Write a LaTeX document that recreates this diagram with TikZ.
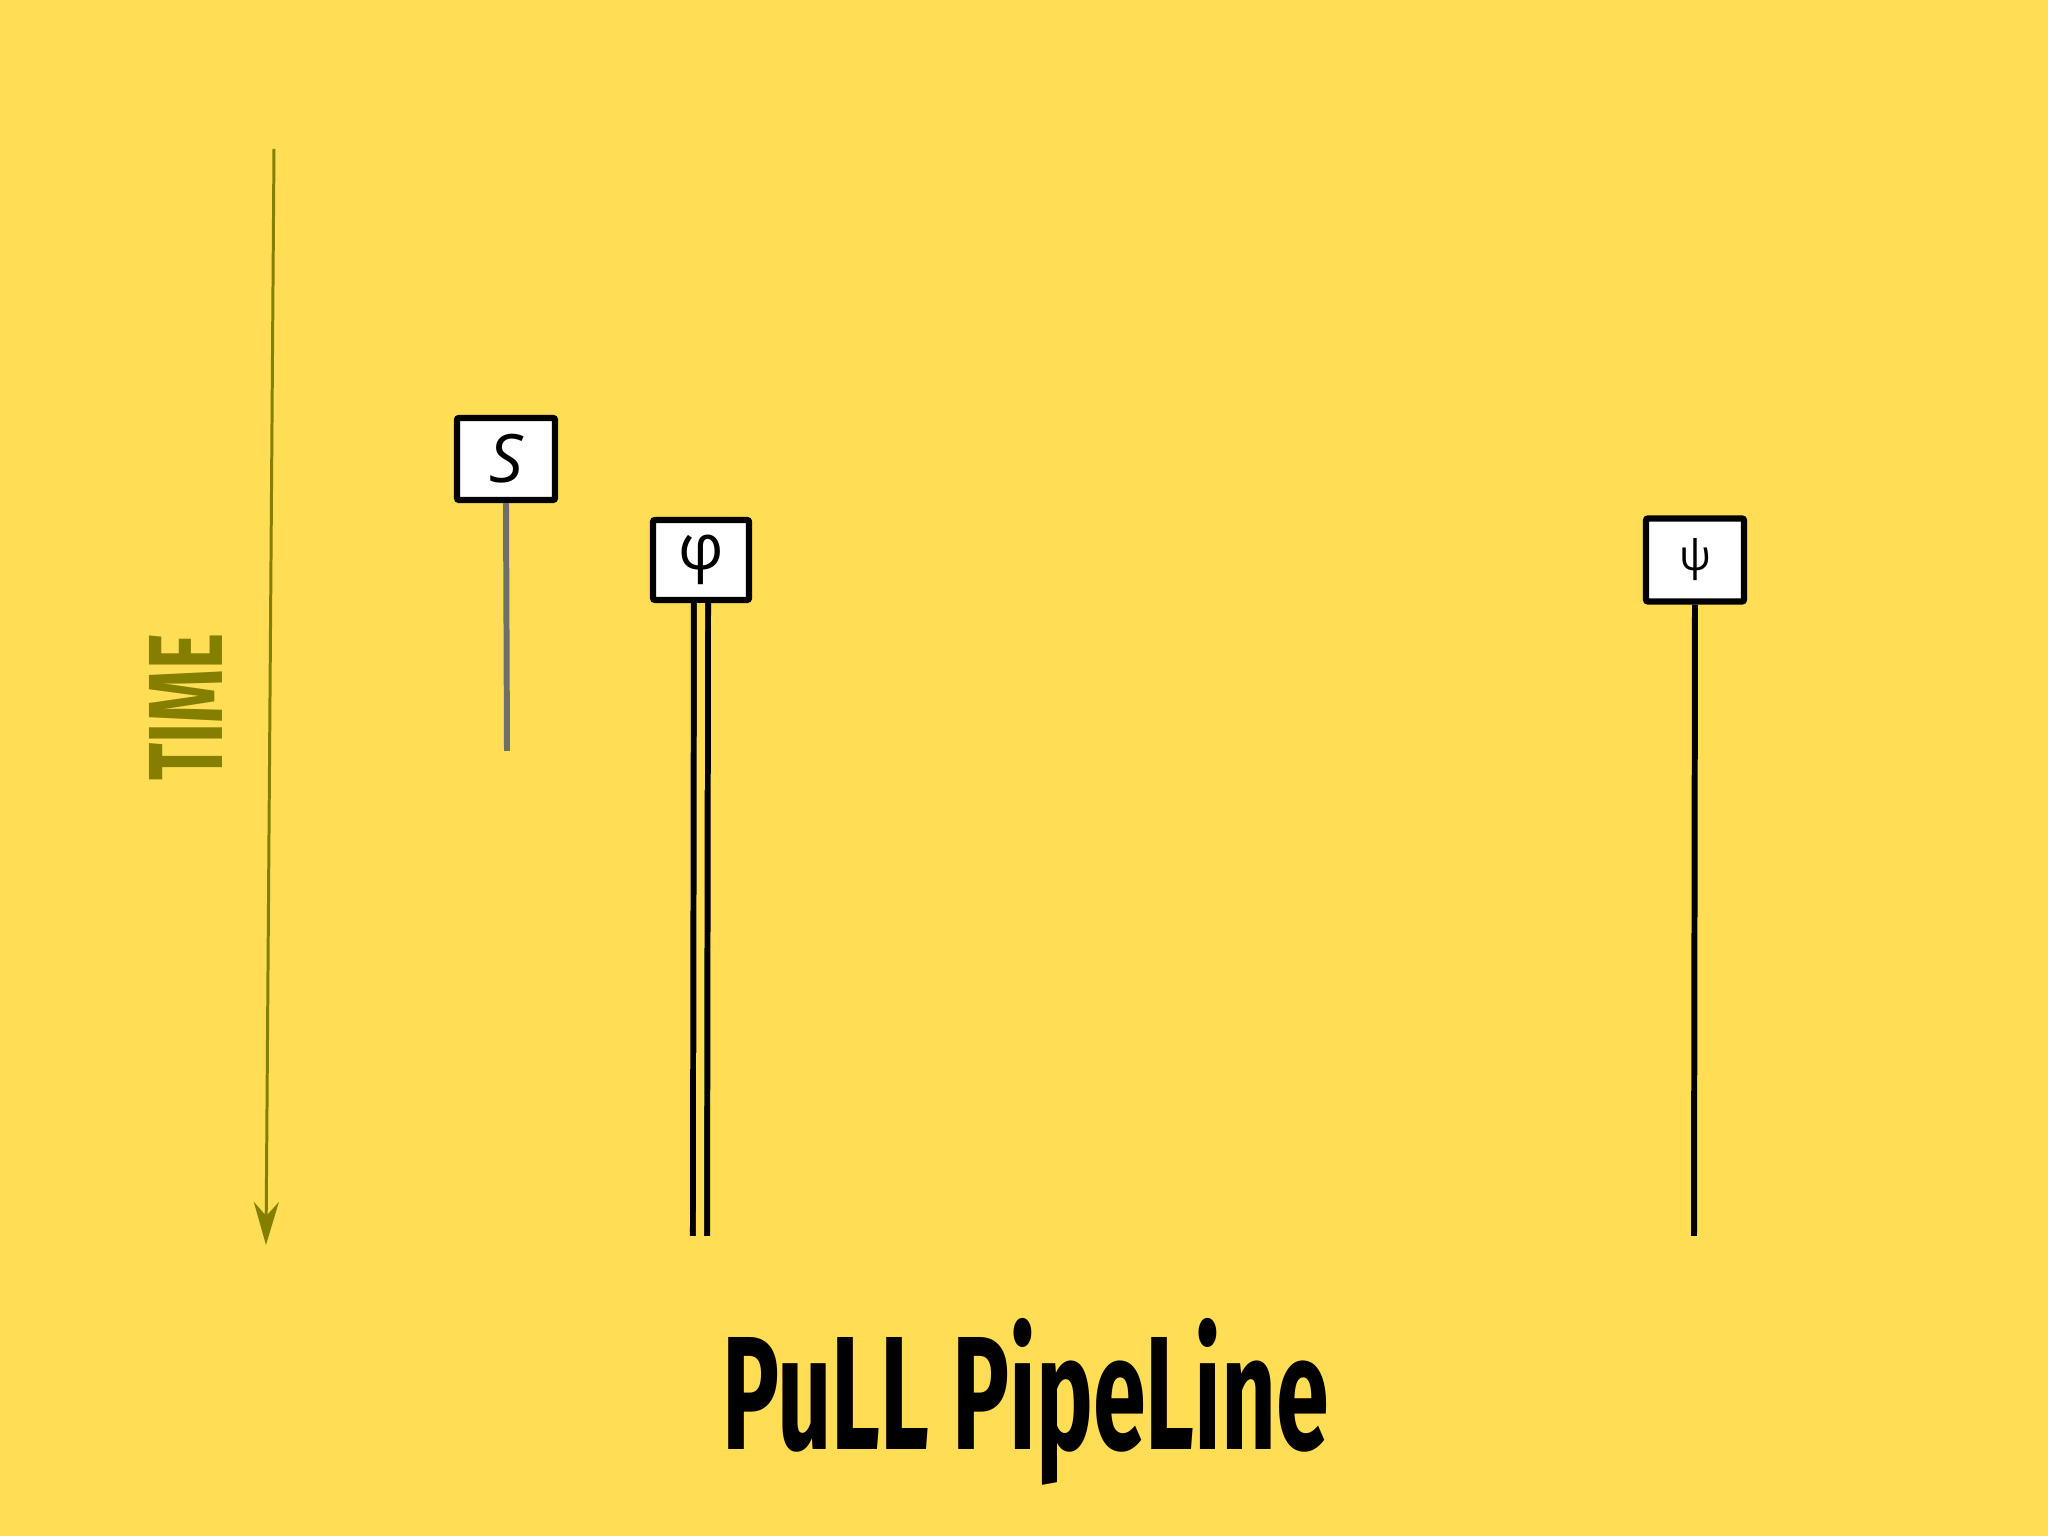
\documentclass[tikz,border=0pt]{standalone}
\usepackage{fontspec}
\setmainfont{Open Sans}
\newfontfamily\titlefont{Fira Sans}
\usetikzlibrary{arrows.meta}
\definecolor{bgyellow}{HTML}{FFDD55}
\definecolor{timeolive}{HTML}{857F00}
\definecolor{wiregray}{HTML}{6E6E6E}
\tikzset{
  stage/.style={fill=white, draw=black, line width=1.8pt, rounded corners=0.6pt, inner sep=0pt},
  wire/.style={line width=1.7pt}
}
\begin{document}
\begin{tikzpicture}
            \fill[bgyellow] (0,0) rectangle (20.48,15.36);
            \useasboundingbox (0,0) rectangle (20.48,15.36);

            \node[stage, minimum width=0.98cm, minimum height=0.82cm] (S) at (5.06,10.77) {\fontsize{19}{21}\selectfont\itshape S};
            \node[stage, minimum width=0.96cm, minimum height=0.80cm] (phi) at (7.01,9.76) {\fontsize{18}{20}\selectfont φ};
            \node[stage, minimum width=0.98cm, minimum height=0.83cm] (psi) at (16.95,9.76) {\fontsize{12}{14}\selectfont ψ};

            \coordinate (S_end) at (5.07,7.85);
            \coordinate (phi_end) at (7.00,3.00);
            \coordinate (psi_end) at (16.94,3.00);
            \coordinate (time_top) at (2.74,13.87);
            \coordinate (time_end) at (2.66,2.91);

            \draw[wire, wiregray] (S.south) -- (S_end);
            \draw[wire, double=bgyellow, double distance=2.3pt] (phi.south) -- (phi_end);
            \draw[wire] (psi.south) -- (psi_end);

            \draw[timeolive, line width=0.85pt, -{Stealth[length=4.3mm, width=2.5mm, inset=1.4mm]}] (time_top) -- (time_end);
            \node[timeolive, rotate=90, inner sep=0pt] (time) at (1.86,8.29) {\titlefont\bfseries\fontsize{30}{32}\selectfont\scalebox{0.65}[1]{TIME}};

            \node[anchor=base, inner sep=0pt] (title) at (10.26,0.86) {\titlefont\bfseries\fontsize{46}{50}\selectfont\scalebox{0.59}[1]{PuLL PipeLine}};
\end{tikzpicture}
\end{document}
